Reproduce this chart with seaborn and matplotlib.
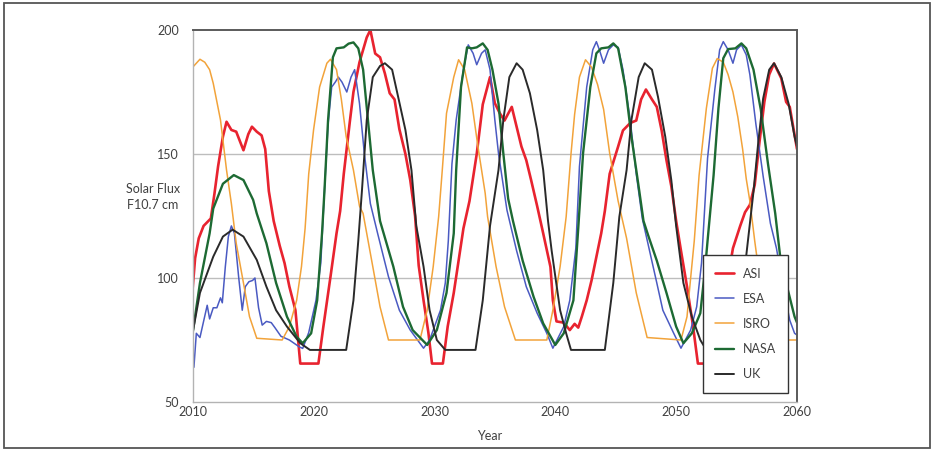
import matplotlib
matplotlib.use("Agg")
import matplotlib.pyplot as plt
import seaborn as sns
import pandas as pd
from matplotlib.patches import Rectangle
from matplotlib.ticker import MultipleLocator

# ---------------- data ----------------
agencies = ["ASI", "ESA", "ISRO", "NASA", "UK"]

asi_year = [2010.0, 2010.2, 2010.5, 2010.9, 2011.5, 2011.8, 2012.1, 2012.5, 2012.8, 2013.2,
            2013.6, 2014.2, 2014.6, 2014.9, 2015.3, 2015.7, 2016.0, 2016.3, 2016.7, 2017.2,
            2017.6, 2018.0, 2018.5, 2018.9, 2020.4, 2020.8, 2021.4, 2021.9, 2022.2, 2022.5,
            2023.0, 2023.3, 2023.8, 2024.4, 2024.7, 2025.1, 2025.5, 2025.9, 2026.3, 2026.7,
            2027.1, 2027.6, 2028.0, 2028.4, 2028.7, 2029.1, 2029.5, 2029.8, 2030.7, 2031.1,
            2031.6, 2032.0, 2032.4, 2032.9, 2033.5, 2034.0, 2034.6, 2035.0, 2035.4, 2035.8,
            2036.4, 2036.8, 2037.2, 2037.6, 2038.0, 2038.5, 2039.0, 2039.6, 2039.8, 2040.1,
            2040.7, 2041.2, 2041.6, 2041.9, 2042.2, 2042.6, 2043.0, 2043.4, 2043.8, 2044.1,
            2044.5, 2045.2, 2045.6, 2046.2, 2046.7, 2047.1, 2047.5, 2048.0, 2048.4, 2048.8,
            2049.2, 2049.6, 2050.0, 2050.4, 2050.9, 2051.4, 2051.8, 2052.6, 2053.2, 2054.0,
            2054.7, 2055.3, 2055.7, 2056.1, 2056.5, 2056.9, 2057.3, 2057.7, 2058.1, 2058.7,
            2059.1, 2059.4, 2060.0]
asi_flux = [96, 108, 116, 121, 124, 134, 145, 157, 163, 159.7,
            159, 151.5, 158, 161, 159, 157.5, 152, 135, 123, 113,
            106, 96.5, 87, 65.5, 65.5, 80, 100.5, 118, 127, 142,
            163, 175, 187, 197, 200, 190.5, 189, 182.5, 174.5, 172,
            160, 150, 139.5, 125, 105, 91, 78, 65.5, 65.5, 80.5,
            94, 107, 120, 131, 150, 170, 181, 170.5, 166.5, 163.5,
            169, 161, 153, 147.5, 139.5, 129, 118, 104.5, 91, 82.5,
            82, 79, 81.5, 80, 84.5, 91, 99, 108.5, 118, 127,
            142, 153, 159.5, 162.5, 163.5, 172, 176, 172, 169, 159.5,
            147.5, 137, 123, 111, 96.5, 80.5, 65.5, 65.5, 72, 92,
            112, 121, 126.5, 129.5, 137.5, 155, 171, 182, 186.5, 180.5,
            171, 169, 152]

esa_year = [2010.0, 2010.1, 2010.3, 2010.6, 2011.2, 2011.4, 2011.7, 2012.0, 2012.3, 2012.45,
            2012.7, 2012.95, 2013.2, 2013.45, 2013.8, 2014.1, 2014.35, 2014.65, 2014.95, 2015.15,
            2015.45, 2015.75, 2016.1, 2016.5, 2016.8, 2017.3, 2018.0, 2018.8, 2019.1, 2019.6,
            2020.2, 2020.6, 2020.9, 2021.2, 2021.5, 2021.8, 2022.05, 2022.35, 2022.75, 2023.1,
            2023.4, 2023.8, 2024.2, 2024.7, 2025.3, 2026.2, 2027.1, 2028.0, 2029.1, 2029.6,
            2030.5, 2030.9, 2031.15, 2031.45, 2031.8, 2032.4, 2032.8, 2033.2, 2033.5, 2033.9,
            2034.2, 2034.6, 2035.0, 2035.3, 2036.0, 2036.8, 2037.6, 2038.5, 2039.3, 2039.8,
            2040.7, 2041.2, 2041.7, 2042.0, 2042.6, 2043.1, 2043.4, 2043.65, 2044.0, 2044.4,
            2044.8, 2045.2, 2045.6, 2046.2, 2046.7, 2047.2, 2047.8, 2048.4, 2048.9, 2049.8,
            2050.4, 2051.2, 2051.7, 2052.1, 2052.6, 2053.2, 2053.6, 2053.9, 2054.3, 2054.7,
            2055.0, 2055.4, 2055.8, 2056.1, 2056.6, 2057.2, 2057.8, 2058.3, 2058.8, 2059.4,
            2059.8, 2060.0]
esa_flux = [73, 64, 77.7, 76, 89, 83.5, 88, 88, 92, 90,
            104.6, 116.7, 121, 118, 100.5, 87, 96.5, 98.5, 99, 100,
            88, 81, 82.5, 82, 80, 76.5, 75, 72.3, 71.6, 78,
            91, 106, 135, 162, 177, 179, 181, 179, 175, 181,
            184, 170.4, 150.3, 130, 118, 100.5, 87, 79, 71.7, 75,
            87, 98, 115, 146, 163.7, 184, 194, 190.6, 186, 190.6,
            192, 184, 163.7, 150.3, 127.4, 111, 96.5, 85.8, 77.7, 71.7,
            80.4, 91, 112, 145, 177, 192, 195.3, 192, 186.6, 192,
            194, 193, 184, 163.7, 142, 124, 111, 98, 87, 77.7,
            71.7, 79, 88.4, 106, 148.3, 176, 192, 195.3, 192, 186.6,
            192, 194, 190, 182, 162, 141, 122, 112, 98, 83,
            77.7, 77]

isro_year = [2010.0, 2010.6, 2011.0, 2011.4, 2011.7, 2012.3, 2012.8, 2013.2, 2013.6, 2014.2,
             2014.7, 2015.3, 2017.4, 2018.0, 2018.6, 2019.0, 2019.3, 2019.6, 2020.0, 2020.5,
             2021.1, 2021.4, 2021.9, 2022.3, 2022.7, 2023.3, 2023.8, 2024.1, 2024.9, 2025.5,
             2026.2, 2028.8, 2029.4, 2029.9, 2030.35, 2030.65, 2031.0, 2031.6, 2032.0, 2032.5,
             2033.1, 2033.6, 2034.2, 2034.4, 2035.1, 2035.8, 2036.7, 2039.3, 2039.8, 2040.4,
             2040.9, 2041.3, 2041.6, 2042.0, 2042.5, 2043.0, 2043.5, 2044.0, 2044.5, 2045.2,
             2045.9, 2046.7, 2047.6, 2050.4, 2050.9, 2051.2, 2051.5, 2051.9, 2052.5, 2053.0,
             2053.4, 2053.9, 2054.3, 2054.7, 2055.1, 2055.5, 2055.8, 2056.1, 2056.5, 2057.0,
             2057.5, 2058.1, 2058.3, 2060.0]
isro_flux = [185, 188.2, 187, 184, 178.5, 163.7, 143.5, 130, 114, 98,
             84.4, 75.7, 75, 80.4, 91, 104.6, 120, 142, 159.7, 177,
             186.6, 188.2, 184, 172, 157, 143.5, 129, 126, 104.6, 88.4,
             75, 75, 87, 104.6, 124.7, 143.5, 166.4, 181, 188, 184,
             170.4, 153, 134.2, 124.7, 104.6, 88.4, 75, 75, 87, 104.6,
             124.7, 150, 166, 181, 188, 185, 178, 168, 150.3, 131,
             116, 94, 76, 75, 84.4, 100, 115, 141.5, 168.4, 184.6,
             188.5, 187, 182, 175, 165, 152, 140, 131, 115, 97,
             85, 76, 75, 75]

nasa_year = [2010.0, 2010.6, 2011.4, 2011.7, 2012.5, 2013.4, 2014.2, 2015.0, 2015.3, 2016.1,
             2016.9, 2017.8, 2018.6, 2019.1, 2019.8, 2020.3, 2020.7, 2020.9, 2021.2, 2021.6,
             2021.9, 2022.5, 2022.9, 2023.3, 2023.7, 2024.1, 2024.5, 2024.9, 2025.5, 2026.6,
             2027.4, 2028.2, 2029.4, 2030.2, 2031.0, 2031.6, 2031.8, 2032.2, 2032.7, 2033.1,
             2033.5, 2034.0, 2034.4, 2034.8, 2035.3, 2035.7, 2036.1, 2036.5, 2037.3, 2038.2,
             2039.0, 2040.0, 2040.7, 2041.5, 2041.9, 2042.3, 2042.9, 2043.4, 2043.8, 2044.4,
             2044.8, 2045.2, 2045.8, 2046.3, 2046.9, 2047.3, 2047.7, 2048.4, 2049.2, 2050.0,
             2050.6, 2051.3, 2052.0, 2052.4, 2052.6, 2053.1, 2053.5, 2053.9, 2054.3, 2054.9,
             2055.4, 2055.8, 2056.4, 2057.0, 2057.6, 2058.2, 2058.6, 2059.1, 2059.8, 2060.0]
nasa_flux = [78, 98, 118, 128, 138, 141.5, 139.5, 131.5, 126, 114,
             98, 84.4, 76.3, 73.7, 77.7, 91, 118, 135, 163.7, 189,
             192.6, 193, 194.5, 195, 192.6, 184, 163.7, 143.5, 123, 104.6,
             88.4, 79, 73, 79, 94, 118, 143.5, 177, 193, 192.6,
             193, 194.6, 192, 184, 170.4, 150.3, 132, 123, 107, 92.5,
             81.7, 73, 77.7, 91, 120, 150.3, 177, 190.6, 192.6, 193,
             194.6, 192.6, 177, 157, 136.8, 123, 117, 107, 94, 80.4,
             73.7, 77.7, 85.8, 104, 115, 141.5, 168.4, 188.6, 192.3, 192.6,
             194.6, 192.6, 184, 168, 146, 126, 109, 98, 84.4, 82]

uk_year = [2010.0, 2010.6, 2011.7, 2012.5, 2013.3, 2014.2, 2015.3, 2016.1, 2016.9, 2017.8,
           2018.9, 2019.7, 2022.7, 2023.3, 2023.7, 2024.0, 2024.4, 2024.9, 2025.5, 2025.9,
           2026.5, 2027.0, 2027.6, 2028.1, 2028.5, 2029.1, 2029.6, 2030.2, 2030.9, 2033.4,
           2034.0, 2034.6, 2035.3, 2035.7, 2036.2, 2036.8, 2037.3, 2037.9, 2038.5, 2039.0,
           2039.4, 2039.7, 2040.4, 2040.9, 2041.3, 2044.1, 2044.8, 2045.3, 2045.9, 2046.3,
           2046.9, 2047.4, 2048.0, 2048.5, 2049.1, 2049.6, 2050.0, 2050.6, 2051.3, 2052.0,
           2052.5, 2054.8, 2055.3, 2055.8, 2056.4, 2056.8, 2057.2, 2057.7, 2058.1, 2058.7,
           2059.3, 2059.8, 2060.0]
uk_flux = [78, 94, 108.6, 116.7, 119.5, 116.7, 107.3, 96.5, 87, 80.4,
           73.7, 71, 71, 91, 115, 135, 163.7, 181, 185.5, 186.6,
           184, 173, 159.7, 143.5, 121, 104.6, 87, 75, 71, 71,
           91, 121, 143.5, 163.7, 181, 186.6, 184, 174.5, 159.7, 143.5,
           123, 111, 87, 77.7, 71, 71, 98, 124.7, 143.5, 163.7,
           181, 186.6, 184, 173, 157, 139.5, 121, 98, 84.4, 75,
           71, 71, 90, 109, 134.8, 155, 172.4, 184, 186.6, 181,
           170.4, 157, 153]

series_years = [asi_year, esa_year, isro_year, nasa_year, uk_year]
series_flux = [asi_flux, esa_flux, isro_flux, nasa_flux, uk_flux]

x_ticks = [2010, 2020, 2030, 2040, 2050, 2060]
y_ticks = [50, 100, 150, 200]

# ---------------- style ----------------
colors = {"ASI": "#e8232f", "ESA": "#4a5ac2", "ISRO": "#f2a33a",
          "NASA": "#1d6a33", "UK": "#2a2a2a"}
widths = {"ASI": 1.9, "ESA": 1.1, "ISRO": 1.1, "NASA": 1.7, "UK": 1.4}

sns.set_theme(style="white")
plt.rcParams["font.family"] = ["Lato", "DejaVu Sans"]
text_col = "#404040"

frames = []
for name, yr, fl in zip(agencies, series_years, series_flux):
    frames.append(pd.DataFrame({"Year": yr, "Flux": fl, "Agency": name}))
df = pd.concat(frames, ignore_index=True)

fig = plt.figure(figsize=(9.36, 4.49), dpi=100)
ax = fig.add_axes([192.7 / 936, 1 - 402 / 449, 604.3 / 936, 372 / 449])

for name in agencies:
    sub = df[df["Agency"] == name]
    sns.lineplot(data=sub, x="Year", y="Flux", ax=ax, color=colors[name],
                 linewidth=widths[name], estimator=None, sort=False, label=name)

ax.set_xlim(2010, 2060)
ax.set_ylim(50, 200)
ax.set_xticks(x_ticks)
ax.set_yticks(y_ticks)
ax.xaxis.set_minor_locator(MultipleLocator(5))
ax.yaxis.set_minor_locator(MultipleLocator(10))

for gy in [100, 150]:
    ax.axhline(gy, color="#bdbdbd", linewidth=1.0, zorder=0)

for side in ["left", "bottom"]:
    ax.spines[side].set_color("#b3b3b3")
    ax.spines[side].set_linewidth(1.0)
for side in ["top", "right"]:
    ax.spines[side].set_color("#5a5a5a")
    ax.spines[side].set_linewidth(1.4)

ax.tick_params(axis="x", which="both", direction="in", length=3, width=0.8,
               color="#b3b3b3", labelsize=9, labelcolor=text_col, pad=3)
ax.tick_params(axis="y", which="major", direction="in", length=4, width=0.8,
               color="#b3b3b3", labelsize=9, labelcolor=text_col, pad=10)
ax.tick_params(axis="y", which="minor", direction="in", length=2.5, width=0.7,
               color="#c8c8c8")

ax.set_xlabel("Year", fontsize=9, color=text_col)
ax.xaxis.set_label_coords(0.492, -0.075)
ax.set_ylabel("Solar Flux\nF10.7 cm", fontsize=9, color=text_col,
              rotation=0, ha="center", va="center", linespacing=1.4)
ax.yaxis.set_label_coords(-0.066, 0.552)

leg = ax.legend(loc="upper left", bbox_to_anchor=(0.844, 0.395), fontsize=9,
                frameon=True, fancybox=False, framealpha=1, edgecolor="#333333",
                labelspacing=1.05, handlelength=1.5, handletextpad=0.7,
                borderpad=1.0, borderaxespad=0)
leg.get_frame().set_linewidth(1.0)
for t in leg.get_texts():
    t.set_color(text_col)

fig.patches.append(Rectangle((4 / 936, 1 / 449), 926 / 936, 445 / 449,
                             transform=fig.transFigure, fill=False,
                             edgecolor="#555555", linewidth=1.3))

fig.savefig("out.png", dpi=100)
